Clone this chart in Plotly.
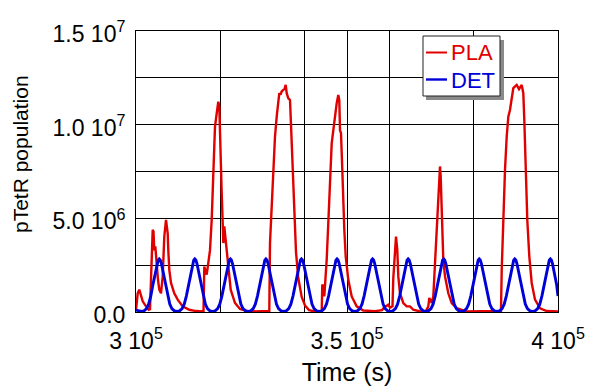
import plotly.graph_objects as go

# ---------------- data ----------------
# PLA (stochastic) trajectory: time in seconds, population in millions
pla_time = [
    300000, 300403, 300782, 301066, 301588, 302370, 303009, 303318, 303555, 303792,
    303957, 304147, 304337, 304574, 304905, 305213, 305521, 305924, 306327, 306706,
    307109, 307512, 307654, 307891, 308294, 309076, 309882, 311066, 312630, 314218,
    315995, 316185, 316422, 316754, 317062, 317536, 317939, 318318, 318721, 319124,
    319503, 319740, 319905, 320071, 320308, 320545, 320688, 320924, 321161, 321493,
    321872, 322441, 323460, 324645, 326612, 329384, 331588, 331754, 331991, 332299,
    332536, 332939, 333342, 333721, 333958, 334242, 334527, 334906, 335190, 335474,
    335711, 336090, 336493, 336730, 337038, 337275, 337560, 337915, 338460, 339266,
    340048, 340996, 342418, 344006, 344147, 344384, 344621, 344858, 345190, 345569,
    345972, 346375, 346754, 347157, 347560, 347939, 348176, 348342, 348579, 348887,
    349124, 349361, 349693, 350309, 351115, 352299, 353863, 356636, 358295, 359006,
    359409, 359788, 360190, 360783, 360972, 361375, 361612, 361920, 362157, 362560,
    363342, 364148, 364930, 365712, 367299, 368721, 369266, 369503, 370072, 370451,
    370854, 371257, 371636, 372039, 372205, 372442, 372679, 372821, 373224, 374006,
    374811, 375996, 378200, 382703, 386494, 386660, 387040, 387442, 387845, 388224,
    388627, 389030, 389409, 390212, 390760, 391400, 391779, 392016, 392418, 392727,
    393201, 393768, 394551, 395736, 397324, 400000,
]
pla_millions = [
    0.10, 1.00, 1.19, 1.00, 0.57, 0.30, 0.12, 0.15, 1.90, 3.30,
    4.39, 4.30, 3.30, 3.50, 2.43, 1.72, 1.19, 1.00, 1.90, 4.03,
    4.92, 4.20, 3.30, 2.25, 1.55, 1.00, 0.66, 0.30, 0.12, 0.05,
    0.03, 2.43, 2.20, 2.00, 2.50, 3.30, 4.92, 7.60, 9.90, 10.60,
    11.23, 10.97, 9.20, 8.10, 6.35, 4.75, 3.68, 4.57, 4.03, 3.15,
    2.08, 1.19, 0.48, 0.16, 0.03, 0.02, 0.05, 3.68, 4.92, 6.17,
    7.60, 9.37, 10.43, 11.23, 11.68, 11.60, 11.77, 11.86, 11.90, 12.12,
    11.68, 11.40, 11.32, 10.00, 8.30, 7.00, 5.20, 3.20, 1.80, 0.80,
    0.35, 0.10, 0.03, 0.03, 1.46, 1.37, 0.83, 1.55, 2.80, 4.75,
    7.05, 9.00, 9.70, 10.60, 11.15, 11.59, 11.30, 9.70, 9.55, 7.60,
    5.80, 4.40, 2.97, 1.72, 0.83, 0.30, 0.08, 0.04, 0.10, 0.30,
    0.33, 0.39, 0.23, 0.30, 1.80, 3.60, 4.03, 3.30, 1.90, 1.00,
    0.48, 0.30, 0.30, 0.12, 0.03, 0.05, 0.30, 0.75, 0.48, 0.83,
    2.43, 4.20, 6.00, 7.77, 7.20, 5.60, 3.50, 2.80, 1.90, 1.00,
    0.48, 0.20, 0.03, 0.02, 0.05, 2.25, 5.30, 7.60, 9.37, 10.43,
    10.80, 11.50, 11.95, 12.12, 11.90, 12.12, 11.68, 10.25, 7.60, 4.90,
    2.97, 1.55, 0.66, 0.20, 0.05, 0.03,
]

# DET (deterministic) trajectory: peak times read from the picture and the
# shape of one pulse read around a peak (offset in s, population in millions)
det_peak_times = [305500, 313930, 322350, 330780, 339200, 347630,
                  356050, 364480, 372900, 381330, 389750, 398180]
det_pulse_offset = [-4212, -3600, -3000, -2500, -2000, -1500, -1000, -500, -250,
                    0, 250, 500, 1000, 1500, 2000, 2500, 3000, 3600]
det_pulse_millions = [0.03, 0.06, 0.18, 0.42, 0.85, 1.45, 2.05, 2.60, 2.77,
                      2.83, 2.77, 2.60, 2.05, 1.45, 0.85, 0.42, 0.18, 0.06]
det_start = (300000, 0.10)
det_end = (400000, 0.85)

series_names = ["PLA", "DET"]
x_tick_vals = [300000, 350000, 400000]
x_tick_text = ["3 10<sup>5</sup>", "3.5 10<sup>5</sup>", "4 10<sup>5</sup>"]
y_tick_vals = [0, 5e6, 1e7, 1.5e7]
y_tick_text = ["0.0", "5.0 10<sup>6</sup>", "1.0 10<sup>7</sup>", "1.5 10<sup>7</sup>"]

# ---------------- build series ----------------
pla_values = [v * 1e6 for v in pla_millions]

det_time = [det_start[0]]
det_values = [det_start[1] * 1e6]
for p in det_peak_times:
    for o, v in zip(det_pulse_offset, det_pulse_millions):
        t = p + o
        if det_start[0] < t < det_end[0]:
            det_time.append(t)
            det_values.append(v * 1e6)
det_time.append(det_end[0])
det_values.append(det_end[1] * 1e6)

RED = "#e00000"
BLUE = "#0000d8"
FONT = "Liberation Sans, Arial, sans-serif"

# plot area in pixels (for placing the hand-made legend box)
L, R, T, B = 136, 31, 31, 75
W, H = 589, 387
PW, PH = W - L - R, H - T - B


def px(x):
    return (x - L) / PW


def py(y):
    return (H - B - y) / PH


fig = go.Figure()
fig.add_trace(go.Scatter(x=pla_time, y=pla_values, mode="lines",
                         line=dict(color=RED, width=2.4), name=series_names[0]))
fig.add_trace(go.Scatter(x=det_time, y=det_values, mode="lines",
                         line=dict(color=BLUE, width=2.9), name=series_names[1]))

shapes = [
    # legend shadow and box
    dict(type="rect", xref="paper", yref="paper", layer="above",
         x0=px(426), x1=px(504), y0=py(40), y1=py(100),
         fillcolor="#8a8a8a", line=dict(width=0)),
    dict(type="rect", xref="paper", yref="paper", layer="above",
         x0=px(423), x1=px(500), y0=py(36), y1=py(96),
         fillcolor="white", line=dict(color="#222", width=1)),
    dict(type="line", xref="paper", yref="paper", layer="above",
         x0=px(426), x1=px(447), y0=py(52.5), y1=py(52.5),
         line=dict(color=RED, width=2)),
    dict(type="line", xref="paper", yref="paper", layer="above",
         x0=px(426), x1=px(447), y0=py(79.5), y1=py(79.5),
         line=dict(color=BLUE, width=2.4)),
]
annotations = [
    dict(text="pTetR population", textangle=-90,
         xref="paper", yref="paper", x=px(20), y=py(154),
         xanchor="center", yanchor="middle", showarrow=False,
         font=dict(size=21)),
    dict(text=series_names[0], xref="paper", yref="paper", x=px(449), y=py(53),
         xanchor="left", yanchor="middle", showarrow=False,
         font=dict(size=22, color=RED)),
    dict(text=series_names[1], xref="paper", yref="paper", x=px(449), y=py(80),
         xanchor="left", yanchor="middle", showarrow=False,
         font=dict(size=22, color=BLUE)),
]

fig.update_layout(
    width=W, height=H,
    margin=dict(l=L, r=R, t=T, b=B, autoexpand=False),
    paper_bgcolor="white", plot_bgcolor="white",
    font=dict(family=FONT, size=23, color="black"),
    showlegend=False,
    xaxis=dict(range=[300000, 400000], tickvals=x_tick_vals, ticktext=x_tick_text,
               showgrid=True, gridcolor="black", gridwidth=1,
               showline=True, linecolor="black", linewidth=1, mirror=True,
               ticks="", zeroline=False, ticklabelstandoff=8, automargin=False,
               minor=dict(dtick=20000, tick0=300000, showgrid=True,
                          gridcolor="black", gridwidth=1),
               title=dict(text="Time (s)", font=dict(size=25), standoff=10)),
    yaxis=dict(range=[0, 1.5e7], tickvals=y_tick_vals, ticktext=y_tick_text,
               showgrid=True, gridcolor="black", gridwidth=1,
               showline=True, linecolor="black", linewidth=1, mirror=True,
               ticks="", zeroline=False, ticklabelstandoff=5, ticklabelshift=3,
               automargin=False,
               minor=dict(dtick=2.5e6, tick0=0, showgrid=True,
                          gridcolor="black", gridwidth=1)),
    shapes=shapes,
    annotations=annotations,
)

fig.write_html("out.html")
